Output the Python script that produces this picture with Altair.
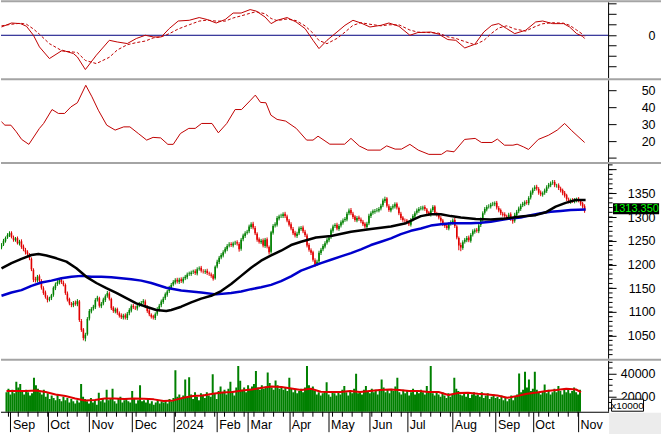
import altair as alt
import pandas as pd

# ---------------- daily OHLC (trading-day index 0..292) ----------------
close = [
1241,1250,1256,1262,1266,1258,1252,1255,1245,1248,
1237,1232,1226,1222,1214,1190,1168,1167,1174,1166,
1151,1140,1132,1125,1128,1135,1151,1158,1163,1167,
1163,1158,1140,1126,1118,1115,1119,1117,1123,1083,
1062,1045,1052,1085,1102,1106,1111,1125,1130,1113,
1117,1126,1133,1140,1128,1108,1102,1105,1098,1092,
1089,1092,1088,1096,1104,1112,1110,1108,1113,1117,
1119,1123,1112,1102,1095,1090,1088,1095,1106,1113,
1122,1128,1137,1143,1151,1157,1163,1167,1164,1168,
1165,1170,1174,1179,1181,1183,1185,1182,1190,1192,
1187,1185,1186,1182,1180,1176,1170,1195,1206,1214,
1220,1226,1233,1239,1242,1241,1244,1246,1244,1232,
1252,1261,1266,1269,1280,1285,1278,1266,1252,1248,
1250,1240,1252,1238,1226,1268,1281,1285,1298,1301,
1303,1306,1302,1293,1284,1276,1266,1261,1265,1276,
1277,1270,1262,1240,1231,1225,1210,1200,1206,1225,
1231,1239,1245,1252,1257,1272,1280,1283,1276,1281,
1289,1293,1296,1307,1314,1308,1300,1294,1298,1296,
1291,1285,1280,1286,1303,1308,1312,1313,1315,1317,
1324,1335,1338,1324,1315,1319,1323,1327,1320,1308,
1298,1294,1292,1289,1285,1294,1302,1308,1314,1317,
1319,1320,1317,1309,1306,1314,1321,1309,1305,1299,
1292,1285,1281,1277,1285,1289,1293,1281,1257,1240,
1236,1247,1252,1256,1251,1262,1270,1272,1271,1282,
1295,1308,1317,1321,1323,1326,1328,1329,1320,1314,
1308,1305,1302,1299,1305,1296,1291,1305,1311,1318,
1324,1328,1331,1330,1340,1352,1358,1363,1360,1351,
1348,1350,1356,1363,1368,1371,1373,1367,1366,1361,
1356,1350,1345,1338,1333,1335,1334,1336,1337,1335,
1328,1322,1313.35]

open_ = [
1236,1242,1249,1257,1261,1267,1257,1251,1256,1244,
1249,1238,1231,1227,1221,1212,1189,1169,1166,1175,
1165,1150,1141,1131,1126,1129,1136,1150,1159,1162,
1168,1162,1157,1139,1127,1117,1114,1120,1116,1122,
1081,1063,1044,1053,1086,1101,1107,1110,1126,1129,
1112,1118,1125,1134,1139,1127,1109,1101,1106,1097,
1093,1088,1093,1087,1097,1103,1113,1109,1107,1114,
1116,1120,1122,1111,1103,1094,1091,1087,1096,1105,
1114,1121,1129,1136,1144,1150,1158,1162,1168,1163,
1169,1164,1171,1173,1180,1180,1184,1186,1181,1191,
1193,1186,1184,1187,1181,1179,1177,1171,1196,1205,
1215,1219,1227,1232,1240,1243,1240,1245,1247,1243,
1233,1253,1260,1267,1270,1279,1286,1277,1265,1253,
1247,1251,1239,1253,1237,1227,1267,1282,1284,1297,
1302,1302,1307,1301,1292,1285,1275,1267,1260,1266,
1275,1278,1269,1261,1241,1230,1226,1209,1201,1207,
1224,1232,1238,1246,1251,1258,1271,1281,1284,1275,
1282,1288,1294,1295,1308,1315,1307,1301,1293,1299,
1295,1290,1286,1279,1287,1302,1309,1311,1314,1314,
1318,1325,1334,1339,1323,1314,1320,1322,1328,1319,
1307,1299,1293,1293,1288,1284,1295,1301,1309,1313,
1318,1318,1321,1316,1310,1305,1315,1322,1308,1306,
1298,1293,1284,1282,1276,1286,1288,1294,1280,1256,
1241,1235,1248,1251,1257,1250,1263,1269,1273,1270,
1283,1294,1309,1316,1322,1322,1327,1327,1330,1319,
1315,1307,1306,1301,1298,1306,1295,1292,1304,1312,
1317,1325,1327,1332,1329,1341,1351,1359,1364,1359,
1352,1347,1351,1355,1364,1367,1372,1374,1366,1367,
1360,1357,1351,1346,1337,1332,1336,1333,1335,1338,
1334,1329,1323]

high = [
1245,1254,1259,1266,1270,1270,1261,1258,1259,1252,
1253,1242,1235,1230,1224,1215,1192,1174,1178,1179,
1169,1154,1145,1135,1132,1138,1154,1162,1167,1171,
1172,1166,1160,1143,1130,1121,1123,1124,1127,1125,
1085,1066,1056,1089,1106,1110,1115,1129,1134,1132,
1121,1130,1137,1144,1143,1130,1112,1109,1109,1101,
1097,1096,1097,1100,1108,1116,1117,1113,1117,1121,
1123,1127,1126,1114,1106,1097,1094,1099,1110,1117,
1126,1132,1141,1147,1155,1161,1167,1171,1172,1172,
1173,1174,1178,1183,1185,1187,1189,1190,1194,1196,
1197,1190,1190,1191,1185,1183,1180,1198,1210,1218,
1224,1230,1237,1243,1247,1247,1248,1250,1251,1247,
1256,1265,1270,1273,1284,1289,1290,1281,1268,1257,
1254,1255,1256,1257,1240,1271,1285,1289,1302,1305,
1307,1310,1311,1305,1296,1289,1279,1271,1269,1280,
1281,1282,1273,1265,1245,1234,1229,1213,1210,1229,
1235,1243,1249,1256,1261,1276,1284,1287,1288,1285,
1293,1297,1300,1311,1318,1319,1311,1304,1302,1303,
1299,1294,1289,1290,1307,1312,1316,1317,1319,1321,
1328,1339,1343,1342,1327,1323,1327,1331,1331,1322,
1311,1302,1297,1296,1292,1298,1306,1312,1318,1321,
1323,1324,1325,1319,1313,1318,1325,1325,1311,1309,
1302,1296,1288,1286,1289,1293,1297,1298,1283,1259,
1246,1251,1256,1260,1261,1266,1274,1276,1277,1286,
1299,1312,1321,1325,1327,1330,1332,1333,1334,1323,
1318,1311,1310,1305,1309,1310,1299,1309,1315,1322,
1328,1332,1335,1336,1344,1356,1362,1367,1368,1363,
1356,1354,1360,1367,1372,1375,1378,1378,1370,1371,
1364,1360,1355,1349,1341,1339,1340,1340,1341,1342,
1338,1332,1327]

low = [
1232,1239,1246,1254,1258,1255,1248,1248,1242,1240,
1233,1228,1221,1218,1209,1186,1163,1162,1162,1161,
1147,1136,1128,1120,1122,1125,1132,1146,1155,1158,
1159,1154,1136,1122,1114,1110,1110,1113,1112,1079,
1058,1040,1038,1050,1082,1097,1103,1106,1122,1109,
1108,1114,1121,1130,1124,1104,1098,1097,1094,1088,
1085,1084,1084,1083,1093,1099,1106,1104,1103,1110,
1112,1116,1108,1098,1091,1086,1084,1083,1092,1101,
1110,1117,1125,1132,1140,1146,1154,1158,1160,1159,
1161,1160,1167,1169,1176,1176,1180,1178,1177,1187,
1183,1181,1180,1178,1176,1172,1166,1168,1192,1201,
1211,1215,1223,1228,1236,1237,1236,1241,1240,1227,
1229,1249,1256,1263,1266,1275,1274,1262,1248,1244,
1243,1236,1235,1234,1221,1223,1263,1278,1280,1293,
1298,1298,1298,1289,1280,1272,1262,1257,1256,1262,
1271,1266,1258,1236,1227,1220,1206,1195,1197,1203,
1220,1228,1234,1242,1247,1254,1267,1277,1272,1271,
1278,1284,1290,1291,1304,1304,1296,1290,1289,1292,
1287,1281,1276,1275,1283,1298,1305,1307,1310,1310,
1314,1321,1330,1320,1311,1310,1316,1318,1316,1304,
1294,1290,1288,1285,1281,1280,1291,1297,1305,1309,
1314,1314,1313,1305,1302,1301,1311,1305,1301,1295,
1288,1281,1277,1273,1272,1282,1284,1277,1253,1230,
1228,1231,1244,1247,1247,1246,1259,1265,1267,1266,
1279,1290,1305,1312,1318,1318,1323,1323,1316,1310,
1304,1301,1298,1295,1294,1292,1286,1288,1300,1308,
1313,1321,1323,1326,1325,1337,1347,1355,1356,1347,
1344,1343,1347,1351,1360,1363,1368,1363,1362,1357,
1352,1346,1341,1334,1329,1328,1330,1329,1331,1331,
1324,1318,1309]

# volume, units of 10,000 shares
volume = [
24000,27000,22000,26000,23000,33000,28000,31000,25000,22000,
26000,24000,21000,23000,36500,30000,27000,24000,22000,26000,
20000,23000,18000,21000,19000,17000,22000,18000,16000,20000,
17000,19000,15000,18000,16000,14000,17000,15000,31000,20000,
18000,16000,14000,19000,15000,17000,13000,23500,16000,18000,
15000,26000,17000,19000,27000,16000,14000,18000,20000,15000,
17000,19000,16000,15000,25000,18000,14000,17000,30000,16000,
17000,15000,19000,14000,16000,13000,15000,17000,14000,16000,
15000,17000,14000,18000,16000,19000,43000,20000,22000,18000,
21000,35000,19000,37000,22000,18000,24000,20000,17000,23000,
22000,19000,24000,21000,20000,39500,23000,18000,25000,29000,
24000,26000,22000,27000,33000,25000,21000,28000,46700,34000,
26000,28000,24000,30000,27000,29000,31000,42300,28000,26000,
30000,27000,29000,41000,32000,28000,26000,34200,30000,27000,
29000,26000,28000,25000,36500,27000,24000,26000,23000,25000,
27000,24000,28000,46700,30000,26000,29000,25000,22000,24000,
21000,23000,25000,32700,22000,20000,24000,23000,21000,25000,
22000,26000,29300,24000,21000,25000,23000,27000,40000,23000,
24000,22000,26000,29300,25000,23000,27000,24000,26000,22000,
25000,35000,28000,24000,26000,23000,27000,25000,29000,36500,
24000,22000,26000,23000,25000,21000,24000,27000,22000,25000,
23000,26000,24000,22000,29300,25000,46700,23000,21000,24000,
22000,20000,24000,21000,19000,23000,20000,22000,36500,27000,
25000,22000,21000,24000,20000,23000,19000,22000,24000,21000,
22000,20000,24000,19000,21000,23000,18000,20000,22000,19000,
20000,18000,21000,17000,19000,16000,18000,21000,17000,20000,
22000,40300,24000,26000,41700,28000,35000,25000,27000,41700,
26000,24000,22000,25000,30700,23000,26000,22000,24000,27000,
24000,29300,25000,22000,27000,24000,26000,23000,25000,28000,
24000,22000,26000]

# moving averages (day index, value)
ma_black_day = [0,5,10,15,18.5,22.5,27.5,32.5,37.5,42.5,47.5,52.5,57.5,62.5,67.5,72.5,77.5,82.5,85,90,
                95,100,105,110,115,120,125,130,135,140,145,150,157.5,165,175,185,195,202.5,207.5,210,
                215,220,225,230,237.5,245,252.5,260,267.5,272.5,277.5,282.5,287.5,292.5]
ma_black = [1192,1203,1212,1220,1222,1219,1213,1206,1192,1174,1161,1150,1140,1129,1118,1111,1104,1102,1104,1111,
            1120,1128,1134,1144,1159,1176,1193,1208,1219,1229,1241,1248,1257,1260,1269,1275,1280,1287,1297,1302,
            1306,1306,1302,1299,1296,1295,1297,1301,1304,1310,1322,1330,1336,1336]

ma_blue_day = [0,5,10,15,20,25,30,35,40,45,50,55,60,65,70,75,82.5,90,100,107.5,
               115,120,125,130,135,140,145,150,155,160,165,170,175,180,185,190,195,200,205,210,
               215,220,225,230,235,240,245,250,255,260,265,270,275,280,285,292.5]
ma_blue = [1134,1141,1146,1155,1162,1166,1171,1174,1176,1174,1174,1173,1171,1169,1166,1161,1151,1145,1141,1137,
           1140,1143,1148,1152,1157,1165,1175,1187,1195,1203,1210,1217,1224,1232,1241,1248,1255,1264,1271,1276,
           1282,1285,1287,1287,1287,1288,1290,1294,1297,1299,1304,1308,1311,1313,1315,1316]

vol_ma_day = [0,5,10,15,20,25,30,35,40,45,50,55,60,65,70,75,80,85,90,95,
              100,105,110,115,120,125,130,135,140,145,150,155,160,165,170,175,180,185,190,195,
              200,205,210,215,220,225,230,235,240,245,250,255,260,265,270,275,280,285,290,292.5]
vol_ma = [25000,25000,25000,25500,24100,22000,20600,18500,16800,17100,18500,18500,18000,18500,18300,17700,16300,16800,19100,20600,
          21100,22600,23700,24100,25500,26300,27800,29000,28400,27200,25800,27000,24300,24100,24100,25000,24100,25000,25800,26300,
          25800,25000,25000,24100,24100,21500,23200,23500,22600,22000,21100,19100,20600,22600,23700,25000,25800,27000,26300,24100]

# MACD panel
macd_day = [0,5,9.5,12.5,16,19,24,30.5,36,38,42,47.5,54,58,63,67.5,72,76,80,84,
            88.5,94,99,103,107.5,112,116,120,124.5,127.5,132,135,138,143,147.5,152,156,159,163,168,
            172,176,180,184.5,190,194,199,204.5,208.5,215,219,223.5,227.5,232,237,241.5,245.5,249,253,257,
            262.5,267.5,271,276,281.5,284.5,288,291,292]
macd = [7.9,11.7,11.1,8.6,0,-11.1,-22.2,-14.3,-17.4,-20.7,-32.7,-19,-4.8,-6.4,-7.9,-3.1,0,-1.6,-1.6,6.4,
        13.6,14.3,16.9,15,11.7,15,21.2,21.2,24.5,23.1,17.4,11.1,14.3,16.9,12.7,6.4,-4.8,-12.7,-4.8,3.1,
        9.5,14.3,11.7,7.9,9.5,11.7,8.6,0,2.6,3.1,1,-4.1,-4.8,-12.1,-8.6,3.1,9.5,11.1,6.4,1.6,
        4.8,12.7,13.6,11.1,11.1,7.9,1.6,-1,-3.1]
signal = [9,10.5,11.5,10.5,6,1,-8,-15,-16,-16.5,-24,-27,-21,-14,-9,-7,-5.5,-2.5,-1.5,1.5,
          6,10,13.5,14.5,13.5,13.5,16.5,18.5,21,22.5,20.5,16,14,15.5,14,9,2,-5,-8,-3,
          3,9.5,12,10.5,9,10,10,5,3,2.5,2,-1.5,-3,-6,-9,-5,2,7,9,6,
          4,8.5,11,12,11.5,9.5,5,1,-1]

# second indicator panel
ind_day = [0,1.7,4.7,7.4,10.1,13.7,19,21.1,25.3,28.5,31.6,34.8,38,42.2,45.3,48.5,52.7,56.9,61.2,64.3,
           68.5,72.7,75.9,79.7,83.3,86,89.6,93.8,97,100.2,105.4,108.6,112.8,117,120.2,124.4,127.1,129.7,132.4,134.9,
           138,142.3,147.6,152.8,156,158.5,164.4,171.8,175,179.2,183.4,189.7,192.9,197.1,200.3,204.5,208.7,214,220.3,223,
           226.6,231.9,237.2,240.3,245.6,248.3,251.9,256.1,258.2,261.4,263.9,268.8,274,278.3,282,285.6,292]
ind = [31.4,29.4,29.4,25.5,21,18.1,27.5,30.4,38.6,36.3,36.3,40.2,42.6,52.9,46.1,38.2,29.4,26.5,28.4,28.4,
       24.5,20.6,22.2,21.9,18.1,18.1,24.5,27.5,27.5,30.4,30.4,24.9,30.4,38.6,38.6,43.7,47.1,42.8,42.6,35.3,
       32.8,31.8,27.5,20.6,20.6,22.9,18.2,18.2,21.6,17.1,14.7,14.7,17.2,15.3,15.3,18.1,14.7,12.2,12.2,14.3,
       13.7,21,21.6,19.2,19.2,21.2,17.6,17.6,18.2,16.6,15.1,21,23.5,26.5,30.4,26.1,19.2]

# x axis: first trading day of each month
month_day = [2,21,42,64,85,107,123,144,164,185,204,227,249,268,291]
month_lab = ["Sep","Oct","Nov","Dec","2024","Feb","Mar","Apr","May","Jun","Jul","Aug","Sep","Oct","Nov"]

# axis tick marks
macd_ticks = [-30, -20, -10, 10, 20, 30]
ind_ticks = [10]
price_major_extra = [1400]
price_minor = list(range(1010, 1411, 10))
vol_minor = [10000, 15000, 25000, 30000, 35000, 45000, 50000]
week_day = list(range(1, 293, 5))

# ---------------- frames ----------------
n = len(close)
cdf = pd.DataFrame({"i": list(range(n)), "o": open_, "h": high, "l": low, "c": close, "v": volume})
cdf["dir"] = ["up" if c >= o else "down" for o, c in zip(open_, close)]
last = cdf.tail(1).copy()
last["lab"] = [f"{close[-1]:.3f}"]

black_df = pd.DataFrame({"i": ma_black_day, "y": ma_black})
blue_df = pd.DataFrame({"i": ma_blue_day, "y": ma_blue})
vma_df = pd.DataFrame({"i": vol_ma_day, "y": vol_ma})
macd_df = pd.DataFrame({"i": macd_day, "m": macd, "s": signal})
ind_df = pd.DataFrame({"i": ind_day, "y": ind})
one = pd.DataFrame({"z": [0]})

W = 608
FONT = "Liberation Sans"
FS = 12.5
GREEN = "#008000"
RED = "#e00000"
SEP = "#a4a4a4"
XS = alt.Scale(domain=[-0.25, 303.75], nice=False, zero=False)
XN = alt.X("i:Q", scale=XS, axis=None)


def yax(values, fmt=None):
    kw = dict(orient="right", values=values, tickSize=8, tickColor="black", domain=False,
              labelColor="black", labelFont=FONT, labelFontSize=FS, labelAlign="right",
              labelPadding=39, grid=False, title=None, labelBaseline="middle", labelFlush=False,
              labelOverlap=False)
    if fmt:
        kw["format"] = fmt
    return alt.Axis(**kw)


def sep():
    return alt.Chart(one).mark_rect(color=SEP).encode(
        x=alt.value(0), x2=alt.value(661), y=alt.value(0), y2=alt.value(2))


def vline(h):
    return alt.Chart(one).mark_rect(color="black").encode(
        x=alt.value(608), x2=alt.value(609), y=alt.value(2), y2=alt.value(h))


def ticks(vals, scale, ax, length):
    return alt.Chart(pd.DataFrame({"t": vals})).mark_rule(color="black", strokeWidth=1).encode(
        x=alt.value(608.5), x2=alt.value(608.5 + length), y=alt.Y("t:Q", scale=scale, axis=ax))


# ---- panel 1: MACD ----
s1 = alt.Scale(domain=[-40.95, 33.33], nice=False, zero=False)
a1 = yax([0])
zero_line = alt.Chart(one).mark_rule(color="#000080", strokeWidth=1).encode(
    y=alt.Y("z:Q", scale=s1, axis=a1), x=alt.value(0), x2=alt.value(W))
macd_line = alt.Chart(macd_df).mark_line(color="#c00000", strokeWidth=1, clip=True,
                                         strokeJoin="round").encode(x=XN, y=alt.Y("m:Q", scale=s1, axis=a1))
sig_line = alt.Chart(macd_df).mark_line(color="#c00000", strokeWidth=1, strokeDash=[3, 2], clip=True,
                                        strokeJoin="round").encode(x=XN, y=alt.Y("s:Q", scale=s1, axis=a1))
p1 = alt.layer(zero_line, sig_line, macd_line, ticks(macd_ticks, s1, a1, 8), vline(78), sep()
               ).properties(width=W, height=78)

# ---- panel 2: indicator ----
s2 = alt.Scale(domain=[7.65, 57.06], nice=False, zero=False)
a2 = yax([20, 30, 40, 50])
ind_line = alt.Chart(ind_df).mark_line(color="#c00000", strokeWidth=1, clip=True, strokeJoin="round").encode(
    x=XN, y=alt.Y("y:Q", scale=s2, axis=a2))
p2 = alt.layer(ind_line, ticks(ind_ticks, s2, a2, 8), vline(84), sep()).properties(width=W, height=84)

# ---- panel 3: price ----
s3 = alt.Scale(domain=[1001.2, 1415.9], nice=False, zero=False)
a3 = yax([1050, 1100, 1150, 1200, 1250, 1300, 1350], "d")
col = alt.Color("dir:N", scale=alt.Scale(domain=["up", "down"], range=[GREEN, RED]), legend=None)
wick = alt.Chart(cdf).mark_rule(strokeWidth=1, clip=True).encode(
    x=XN, y=alt.Y("l:Q", scale=s3, axis=a3), y2="h:Q", color=col)
body = alt.Chart(cdf).mark_rule(strokeWidth=1.6, clip=True).encode(
    x=XN, y=alt.Y("o:Q", scale=s3, axis=a3), y2="c:Q", color=col)
blue = alt.Chart(blue_df).mark_line(color="#0000cc", strokeWidth=2.5, clip=True, strokeJoin="round").encode(
    x=XN, y=alt.Y("y:Q", scale=s3, axis=a3))
black = alt.Chart(black_df).mark_line(color="#000000", strokeWidth=2.5, clip=True, strokeJoin="round").encode(
    x=XN, y=alt.Y("y:Q", scale=s3, axis=a3))
box = alt.Chart(last).mark_point(
    shape="M-2.1,-0.5L2.1,-0.5L2.1,0.5L-2.1,0.5Z", size=484, filled=True, color="#000000", opacity=1
).encode(x=alt.value(636), y=alt.Y("c:Q", scale=s3, axis=a3), yOffset=alt.value(-2))
box_t = alt.Chart(last).mark_text(color="#00ff00", font=FONT, fontSize=11, baseline="middle").encode(
    x=alt.value(636), y=alt.Y("c:Q", scale=s3, axis=a3), yOffset=alt.value(-1.5), text="lab:N")
p3 = alt.layer(wick, body, blue, black,
               ticks(price_minor, s3, a3, 4), ticks(price_major_extra, s3, a3, 8),
               box, box_t, vline(197), sep()).properties(width=W, height=197)

# ---- panel 4: volume ----
s4 = alt.Scale(domain=[6955, 53044], nice=False, zero=False)
a4 = yax([20000, 40000], "d")
xax = alt.Axis(values=month_day,
               labelExpr="({" + ",".join(f"'{d}':'{m}'" for d, m in zip(month_day, month_lab)) + "})[datum.value]",
               tickSize=20, tickColor="black", domain=False, labelColor="black",
               labelFont=FONT, labelFontSize=FS, labelAlign="left", labelBaseline="alphabetic",
               labelPadding=-3, labelOffset=2, labelFlush=False, labelOverlap=False, grid=False, title=None)
X4 = alt.X("i:Q", scale=XS, axis=xax)
vbars = alt.Chart(cdf).mark_bar(size=2, color=GREEN, clip=True).encode(
    x=X4, y=alt.Y("v:Q", scale=s4, axis=a4))
vma = alt.Chart(vma_df).mark_line(color="#e00000", strokeWidth=2, clip=True, strokeJoin="round").encode(
    x=X4, y=alt.Y("y:Q", scale=s4, axis=a4))
wk = alt.Chart(pd.DataFrame({"i": week_day})).mark_rule(color="black", strokeWidth=1).encode(
    x=X4, y=alt.value(53), y2=alt.value(58))
xline = alt.Chart(one).mark_rect(color="black").encode(
    x=alt.value(0), x2=alt.value(609), y=alt.value(53), y2=alt.value(54))
corner = alt.Chart(one).mark_rect(color="#ececec").encode(
    x=alt.value(609), x2=alt.value(661), y=alt.value(54), y2=alt.value(76))
unit_box = alt.Chart(one).mark_rect(fill="white", stroke="black", strokeWidth=1).encode(
    x=alt.value(611.5), x2=alt.value(643.5), y=alt.value(40.5), y2=alt.value(52.5))
unit_t = alt.Chart(pd.DataFrame({"t": ["x10000"]})).mark_text(font=FONT, fontSize=10, color="black").encode(
    x=alt.value(627.5), y=alt.value(47), text="t:N")
p4 = alt.layer(vbars, vma, ticks(vol_minor, s4, a4, 4), wk, xline, corner, vline(53),
               unit_box, unit_t, sep()).properties(width=W, height=53)

chart = alt.vconcat(p1, p2, p3, p4, spacing=0, bounds="flush").properties(
    padding=0, background="white"
).configure_view(stroke=None)

chart.save("out.html", embed_options={"renderer": "svg", "actions": False})
